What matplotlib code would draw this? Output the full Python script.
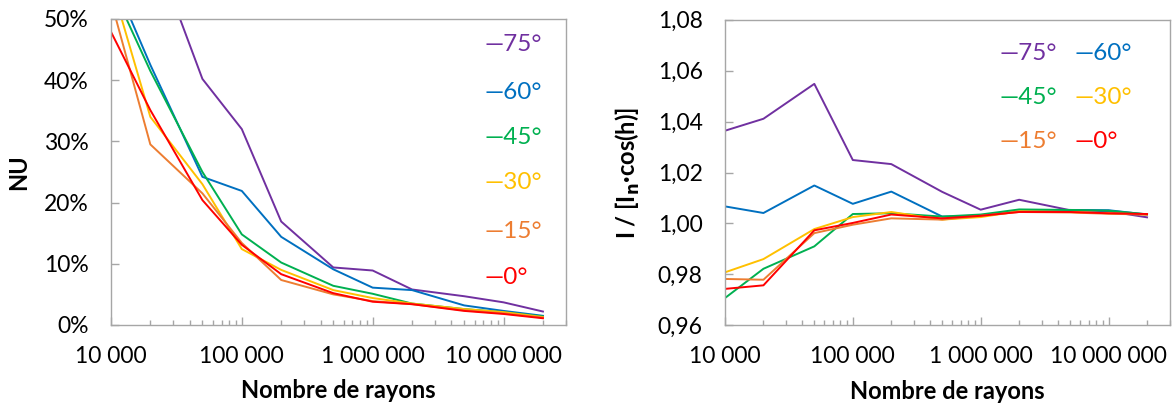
import matplotlib
matplotlib.use("Agg")
import matplotlib.pyplot as plt
import matplotlib.ticker as mticker
import numpy as np

plt.rcParams['font.family'] = ['Lato', 'DejaVu Sans']

# nombre de rayons
rays = [1e4, 2e4, 5e4, 1e5, 2e5, 5e5, 1e6, 2e6, 5e6, 1e7, 2e7]
angles = ['75°', '60°', '45°', '30°', '15°', '0°']
colors = ['#7030A0', '#0070C0', '#00B050', '#FFC000', '#ED7D31', '#FF0000']

# non-uniformite (%)
nu_75 = [85, 63, 40.2, 32.0, 16.9, 9.4, 8.9, 5.8, 4.7, 3.7, 2.2]
nu_60 = [57.5, 42.5, 24.2, 21.9, 14.4, 9.1, 6.1, 5.7, 3.2, 2.3, 1.5]
nu_45 = [55.5, 41.5, 25.0, 14.8, 10.2, 6.4, 5.1, 3.5, 2.6, 2.1, 1.4]
nu_30 = [56, 34.0, 23.0, 12.4, 9.0, 5.7, 4.4, 3.5, 2.6, 2.1, 1.3]
nu_15 = [53, 29.5, 21.5, 13.4, 7.35, 5.0, 3.9, 3.4, 2.4, 1.9, 1.2]
nu_0 = [47.9, 35.1, 20.4, 13.1, 8.3, 5.2, 3.8, 3.4, 2.3, 1.8, 1.1]

# I / [In cos(h)]
ir_75 = [1.0364, 1.0411, 1.0548, 1.0249, 1.0233, 1.0124, 1.0054, 1.0093, 1.0052, 1.0048, 1.0024]
ir_60 = [1.0067, 1.0041, 1.0149, 1.0077, 1.0125, 1.0027, 1.0030, 1.0050, 1.0053, 1.0052, 1.0035]
ir_45 = [0.9707, 0.9822, 0.9910, 1.0037, 1.0040, 1.0027, 1.0035, 1.0055, 1.0053, 1.0050, 1.0036]
ir_30 = [0.9808, 0.9860, 0.9978, 1.0025, 1.0045, 1.0015, 1.0025, 1.0048, 1.0045, 1.0040, 1.0035]
ir_15 = [0.9782, 0.9779, 0.9962, 0.9995, 1.0020, 1.0015, 1.0030, 1.0045, 1.0043, 1.0038, 1.0035]
ir_0 = [0.9743, 0.9757, 0.9973, 1.0002, 1.0035, 1.0020, 1.0030, 1.0045, 1.0045, 1.0040, 1.0037]

nu_series = [nu_75, nu_60, nu_45, nu_30, nu_15, nu_0]
ir_series = [ir_75, ir_60, ir_45, ir_30, ir_15, ir_0]

fig = plt.figure(figsize=(11.74, 4.07), dpi=100)
ax1 = fig.add_axes([0.0945, 0.2015, 0.3876, 0.752])
ax2 = fig.add_axes([0.6175, 0.2007, 0.3787, 0.7509])

def thousands(x, pos):
    return '{:,.0f}'.format(x).replace(',', ' ')

def style_axis(ax):
    ax.set_xscale('log')
    ax.set_xlim(1e4, 3e7)
    ax.xaxis.set_major_locator(mticker.LogLocator(base=10, numticks=10))
    ax.xaxis.set_minor_locator(mticker.LogLocator(base=10, subs=np.arange(2, 10), numticks=20))
    ax.xaxis.set_major_formatter(mticker.FuncFormatter(thousands))
    ax.xaxis.set_minor_formatter(mticker.NullFormatter())
    for s in ax.spines.values():
        s.set_color('#A6A6A6')
        s.set_linewidth(1.0)
    ax.tick_params(which='major', direction='in', length=6, width=1, color='#A6A6A6',
                   labelsize=16.5)
    ax.tick_params(which='minor', direction='in', length=3.5, width=1, color='#A6A6A6')
    ax.tick_params(axis='x', which='major', pad=15)
    ax.tick_params(axis='y', which='major', pad=16)
    ax.set_xlabel('Nombre de rayons', fontsize=17, fontweight='bold', labelpad=9)

for vals, c in zip(nu_series, colors):
    ax1.plot(rays, vals, color=c, lw=1.4)
style_axis(ax1)
ax1.set_ylim(0, 50)
ax1.yaxis.set_major_locator(mticker.MultipleLocator(10))
ax1.yaxis.set_major_formatter(mticker.FuncFormatter(lambda v, p: '{:.0f}%'.format(v)))
ax1.set_ylabel('NU', fontsize=17, fontweight='bold', labelpad=10)

ypos1 = [0.915, 0.761, 0.614, 0.464, 0.304, 0.154]
for lab, c, yy in zip(angles, colors, ypos1):
    ax1.text(0.82, yy, '\u2014' + lab, color=c, fontsize=17.5, va='center', ha='left',
             transform=ax1.transAxes)

for vals, c in zip(ir_series, colors):
    ax2.plot(rays, vals, color=c, lw=1.4)
style_axis(ax2)
ax2.set_ylim(0.96, 1.08)
ax2.yaxis.set_major_locator(mticker.MultipleLocator(0.02))
ax2.yaxis.set_major_formatter(mticker.FuncFormatter(lambda v, p: '{:.2f}'.format(v).replace('.', ',')))
ax2.set_ylabel(r'I / [I$_\mathbf{n}$·cos(h)]', fontsize=17, fontweight='bold', labelpad=11)

xpos2 = [0.617, 0.786]
ypos2 = [0.891, 0.744, 0.600]
for i, (lab, c) in enumerate(zip(angles, colors)):
    ax2.text(xpos2[i % 2], ypos2[i // 2], '\u2014' + lab, color=c, fontsize=17.5,
             va='center', ha='left', transform=ax2.transAxes)

fig.savefig('out.png', dpi=100)
